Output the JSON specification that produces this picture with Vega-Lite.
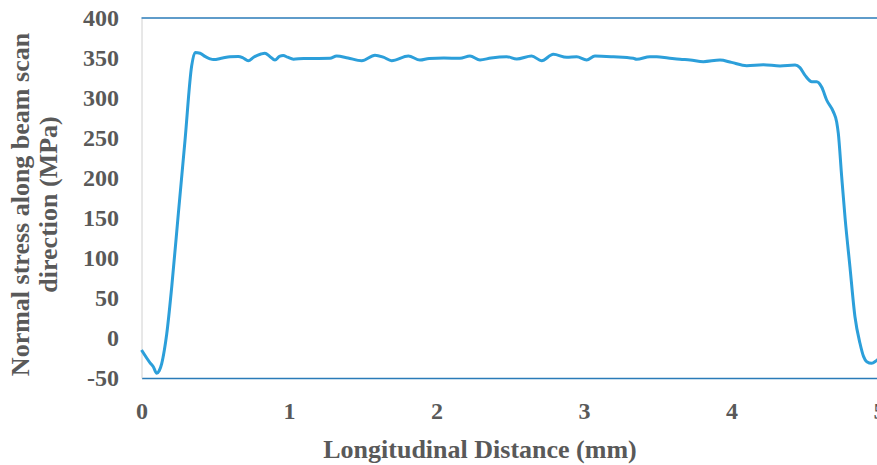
{
  "$schema": "https://vega.github.io/schema/vega-lite/v6.json",
  "width": 737.5,
  "height": 360,
  "autosize": "none",
  "padding": {"left": 141.5, "top": 18, "right": 0, "bottom": 87},
  "background": "white",
  "config": {
    "view": {"stroke": null},
    "font": "Liberation Serif",
    "axisX": {
      "grid": false, "ticks": false, "tickSize": 0,
      "domainColor": "#2a7bb8", "domainWidth": 1.5,
      "labelFont": "Liberation Serif", "labelFontSize": 24, "labelFontWeight": "bold",
      "labelColor": "#595959", "labelBaseline": "alphabetic", "labelPadding": 40,
      "labelFlush": false, "labelOverlap": false, "labelBound": false,
      "titleFont": "Liberation Serif", "titleFontSize": 26, "titleFontWeight": "bold",
      "titleColor": "#595959", "titleX": 338, "titleY": 79,
      "titleAlign": "center", "titleBaseline": "alphabetic", "titleAnchor": null
    },
    "axisY": {
      "grid": false, "ticks": false, "tickSize": 0,
      "domainColor": "#d0d0d0", "domainWidth": 1,
      "labelFont": "Liberation Serif", "labelFontSize": 24, "labelFontWeight": "bold",
      "labelColor": "#595959", "labelPadding": 23, "labelOverlap": false, "labelBound": false, "labelFlush": false,
      "labelExpr": "replace(datum.label, '−', '-')",
      "titleFont": "Liberation Serif", "titleFontSize": 26, "titleFontWeight": "bold",
      "titleColor": "#595959", "titleLineHeight": 28,
      "titleAngle": -90, "titleX": -113.5, "titleY": 186,
      "titleAlign": "center", "titleBaseline": "alphabetic", "titleAnchor": null
    }
  },
  "layer": [
    {
      "data": {"values": [
        {"x": 0, "y": -15}, {"x": 0.058, "y": -31}, {"x": 0.08, "y": -36}, {"x": 0.103, "y": -44},
        {"x": 0.12, "y": -41}, {"x": 0.137, "y": -32}, {"x": 0.155, "y": -15}, {"x": 0.171, "y": 5},
        {"x": 0.205, "y": 64}, {"x": 0.25, "y": 156}, {"x": 0.295, "y": 247}, {"x": 0.34, "y": 340},
        {"x": 0.363, "y": 357}, {"x": 0.397, "y": 356}, {"x": 0.43, "y": 352}, {"x": 0.464, "y": 349},
        {"x": 0.487, "y": 348}, {"x": 0.55, "y": 350}, {"x": 0.6, "y": 351.5}, {"x": 0.656, "y": 352},
        {"x": 0.69, "y": 350}, {"x": 0.724, "y": 346.5}, {"x": 0.76, "y": 351}, {"x": 0.81, "y": 355},
        {"x": 0.837, "y": 356}, {"x": 0.87, "y": 352}, {"x": 0.905, "y": 347.5}, {"x": 0.935, "y": 352},
        {"x": 0.961, "y": 353}, {"x": 0.99, "y": 351}, {"x": 1.03, "y": 348.5}, {"x": 1.1, "y": 349.5},
        {"x": 1.2, "y": 349.5}, {"x": 1.278, "y": 349.6}, {"x": 1.323, "y": 352.5}, {"x": 1.4, "y": 350},
        {"x": 1.493, "y": 346.6}, {"x": 1.583, "y": 353.5}, {"x": 1.64, "y": 351}, {"x": 1.696, "y": 346.6},
        {"x": 1.809, "y": 352.5}, {"x": 1.888, "y": 347.5}, {"x": 1.95, "y": 349.5}, {"x": 2.05, "y": 350},
        {"x": 2.159, "y": 349.6}, {"x": 2.227, "y": 352.5}, {"x": 2.295, "y": 347.5}, {"x": 2.37, "y": 350},
        {"x": 2.476, "y": 351.6}, {"x": 2.544, "y": 348.8}, {"x": 2.645, "y": 352.5}, {"x": 2.713, "y": 346.6},
        {"x": 2.792, "y": 354.6}, {"x": 2.883, "y": 350.8}, {"x": 2.951, "y": 351.6}, {"x": 3.018, "y": 347.5},
        {"x": 3.074, "y": 352.5}, {"x": 3.2, "y": 351.5}, {"x": 3.334, "y": 349.6}, {"x": 3.357, "y": 348.5},
        {"x": 3.447, "y": 351.6}, {"x": 3.493, "y": 351.5}, {"x": 3.57, "y": 350}, {"x": 3.651, "y": 348.4},
        {"x": 3.72, "y": 347.5}, {"x": 3.809, "y": 345.4}, {"x": 3.922, "y": 347.5}, {"x": 4.0, "y": 344.5},
        {"x": 4.103, "y": 340.4}, {"x": 4.216, "y": 341.6}, {"x": 4.329, "y": 340}, {"x": 4.431, "y": 341.2},
        {"x": 4.464, "y": 338}, {"x": 4.5, "y": 328}, {"x": 4.544, "y": 320.4}, {"x": 4.578, "y": 320.4},
        {"x": 4.612, "y": 313.4}, {"x": 4.645, "y": 297.5}, {"x": 4.69, "y": 283}, {"x": 4.713, "y": 270},
        {"x": 4.724, "y": 256}, {"x": 4.747, "y": 201.6}, {"x": 4.77, "y": 150}, {"x": 4.803, "y": 89},
        {"x": 4.837, "y": 26.6}, {"x": 4.871, "y": -6.6}, {"x": 4.895, "y": -23}, {"x": 4.917, "y": -29.6},
        {"x": 4.95, "y": -31.6}, {"x": 4.984, "y": -28}, {"x": 5.0, "y": -26}
      ]},
      "mark": {"type": "line", "color": "#2c9fda", "strokeWidth": 3, "interpolate": "monotone"},
      "encoding": {
        "x": {
          "field": "x", "type": "quantitative",
          "scale": {"domain": [0, 5], "nice": false, "zero": false},
          "axis": {"values": [0, 1, 2, 3, 4, 5]},
          "title": "Longitudinal Distance (mm)"
        },
        "y": {
          "field": "y", "type": "quantitative",
          "scale": {"domain": [-50, 400], "nice": false, "zero": false},
          "axis": {"values": [-50, 0, 50, 100, 150, 200, 250, 300, 350, 400]},
          "title": ["Normal stress along beam scan", "direction (MPa)"]
        }
      }
    },
    {
      "data": {"values": [{"y": 400}]},
      "mark": {"type": "rule", "color": "#2a7bb8", "strokeWidth": 1.5},
      "encoding": {
        "y": {
          "field": "y", "type": "quantitative",
          "axis": {"values": [-50, 0, 50, 100, 150, 200, 250, 300, 350, 400]},
          "title": ["Normal stress along beam scan", "direction (MPa)"]
        }
      }
    }
  ]
}
